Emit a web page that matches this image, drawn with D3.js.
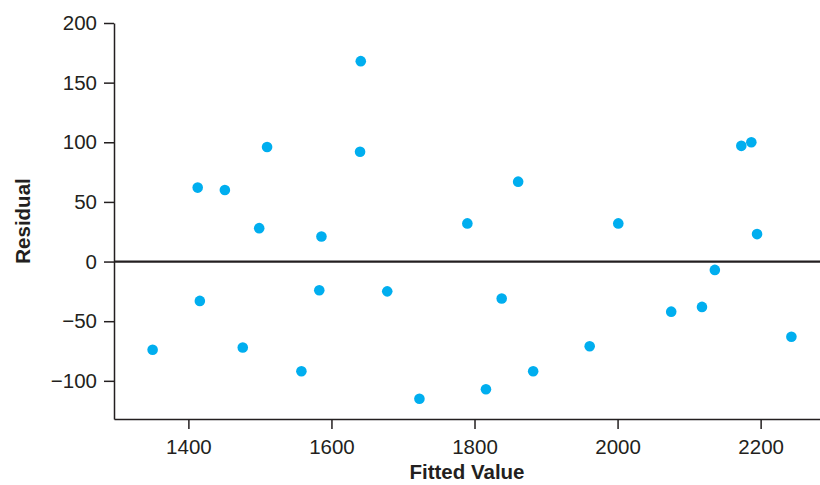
<!DOCTYPE html>
<html>
<head>
<meta charset="utf-8">
<script src="https://cdn.jsdelivr.net/npm/d3@7"></script>
<style>
  html, body { margin: 0; padding: 0; background: #fff; }
  svg { display: block; }
  .axis text { font-family: "Liberation Sans", Arial, sans-serif; font-size: 20.5px; fill: #231f20; }
  .axis path, .axis line { stroke: #231f20; stroke-width: 1.5px; }
  .title { font-family: "Liberation Sans", Arial, sans-serif; font-size: 20.5px; font-weight: bold; fill: #231f20; }
</style>
</head>
<body>
<svg id="chart" width="820" height="485"></svg>
<script>
// Data
const fittedValues = [1350, 1413, 1416, 1451, 1476, 1499, 1510, 1558, 1583, 1586,
                      1640, 1641, 1678, 1723, 1790, 1816, 1838, 1861, 1882, 1961,
                      2001, 2075, 2118, 2136, 2173, 2187, 2195, 2243];
const residuals    = [-74, 62, -33, 60, -72, 28, 96, -92, -24, 21,
                      92, 168, -25, -115, 32, -107, -31, 67, -92, -71,
                      32, -42, -38, -7, 97, 100, 23, -63];
const xTicks = [1400, 1600, 1800, 2000, 2200];
const yTicks = [-100, -50, 0, 50, 100, 150, 200];
const xLabel = "Fitted Value";
const yLabel = "Residual";

const svg = d3.select("#chart");
const x = d3.scaleLinear().domain([1296, 2283]).range([114, 820]);
const y = d3.scaleLinear().domain([-132, 200]).range([419, 23]);

const fmt = d3.format("d");

// Y axis
svg.append("g")
  .attr("class", "axis")
  .attr("transform", `translate(${x.range()[0]},0)`)
  .call(d3.axisLeft(y).tickValues(yTicks).tickSize(10).tickSizeOuter(0).tickPadding(7)
        .tickFormat(d => d < 0 ? "\u2212" + Math.abs(d) : fmt(d)));

// X axis
svg.append("g")
  .attr("class", "axis")
  .attr("transform", `translate(0,${y.range()[0]})`)
  .call(d3.axisBottom(x).tickValues(xTicks).tickSize(10).tickSizeOuter(0).tickPadding(10)
        .tickFormat(fmt));

// Zero reference line
svg.append("line")
  .attr("x1", x.range()[0]).attr("x2", x.range()[1])
  .attr("y1", y(0)).attr("y2", y(0))
  .attr("stroke", "#231f20").attr("stroke-width", 2.2);

// Points
const pts = fittedValues.map((v, i) => ({ fv: v, r: residuals[i] }));
svg.append("g").selectAll("circle")
  .data(pts).join("circle")
  .attr("cx", d => x(d.fv))
  .attr("cy", d => y(d.r))
  .attr("r", 5.3)
  .attr("fill", "#00aeef");

// Axis titles
svg.append("text")
  .attr("class", "title")
  .attr("x", (x.range()[0] + x.range()[1]) / 2)
  .attr("y", 479)
  .attr("text-anchor", "middle")
  .text(xLabel);

svg.append("text")
  .attr("class", "title")
  .attr("transform", `translate(29.5,${(y.range()[0] + y.range()[1]) / 2}) rotate(-90)`)
  .attr("text-anchor", "middle")
  .text(yLabel);
</script>
</body>
</html>
